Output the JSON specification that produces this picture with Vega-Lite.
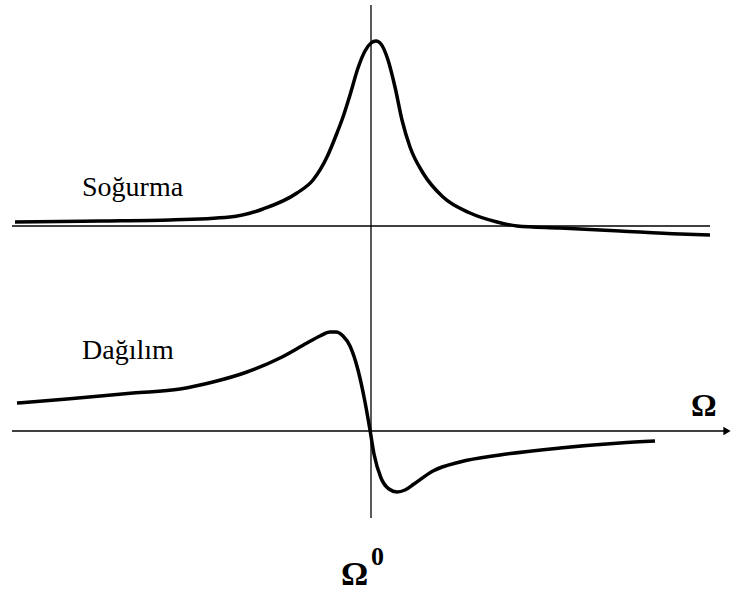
{
  "$schema": "https://vega.github.io/schema/vega-lite/v6.json",
  "width": 734,
  "height": 595,
  "autosize": {"type": "none"},
  "padding": 0,
  "background": "white",
  "config": {"view": {"stroke": null}, "text": {"font": "Liberation Serif"}},
  "datasets": {
    "soğurma": [
      {"x": 15, "y": 222}, {"x": 100, "y": 221}, {"x": 170, "y": 220}, {"x": 230, "y": 217},
      {"x": 263, "y": 209}, {"x": 297, "y": 193}, {"x": 313, "y": 180}, {"x": 327, "y": 157},
      {"x": 337, "y": 133}, {"x": 343, "y": 117}, {"x": 350, "y": 95}, {"x": 358, "y": 68},
      {"x": 365, "y": 51}, {"x": 371, "y": 43}, {"x": 376, "y": 41}, {"x": 381, "y": 44},
      {"x": 388, "y": 60}, {"x": 395, "y": 87}, {"x": 402, "y": 120}, {"x": 410, "y": 147},
      {"x": 423, "y": 173}, {"x": 443, "y": 197}, {"x": 470, "y": 213}, {"x": 497, "y": 222},
      {"x": 517, "y": 226}, {"x": 560, "y": 228}, {"x": 620, "y": 231}, {"x": 680, "y": 234},
      {"x": 710, "y": 235}
    ],
    "dağılım": [
      {"x": 17, "y": 403}, {"x": 67, "y": 399}, {"x": 133, "y": 393}, {"x": 180, "y": 389},
      {"x": 213, "y": 382}, {"x": 247, "y": 372}, {"x": 280, "y": 358}, {"x": 307, "y": 343},
      {"x": 320, "y": 336}, {"x": 330, "y": 332}, {"x": 336, "y": 332}, {"x": 343, "y": 336},
      {"x": 350, "y": 346}, {"x": 358, "y": 370}, {"x": 365, "y": 402}, {"x": 370, "y": 430},
      {"x": 374, "y": 454}, {"x": 381, "y": 478}, {"x": 389, "y": 489}, {"x": 397, "y": 492},
      {"x": 405, "y": 490}, {"x": 414, "y": 484}, {"x": 433, "y": 471}, {"x": 460, "y": 462},
      {"x": 500, "y": 455}, {"x": 560, "y": 448}, {"x": 620, "y": 443}, {"x": 655, "y": 441}
    ],
    "rules": [
      {"x": 12, "x2": 710, "y": 226, "y2": 226},
      {"x": 12, "x2": 728, "y": 431, "y2": 431},
      {"x": 371, "x2": 371, "y": 5, "y2": 518}
    ],
    "labels": [
      {"x": 82, "y": 196, "t": "Soğurma"},
      {"x": 82, "y": 359, "t": "Dağılım"}
    ]
  },
  "encoding": {},
  "layer": [
    {
      "data": {"name": "rules"},
      "mark": {"type": "rule", "color": "black", "strokeWidth": 1.3},
      "encoding": {
        "x": {"field": "x", "type": "quantitative", "scale": {"domain": [0, 734], "nice": false, "zero": false}, "axis": null},
        "x2": {"field": "x2"},
        "y": {"field": "y", "type": "quantitative", "scale": {"domain": [595, 0], "nice": false, "zero": false}, "axis": null},
        "y2": {"field": "y2"}
      }
    },
    {
      "data": {"values": [{"x": 727, "y": 431}]},
      "mark": {"type": "point", "shape": "triangle-right", "filled": true, "color": "black", "size": 70, "opacity": 1},
      "encoding": {
        "x": {"field": "x", "type": "quantitative"},
        "y": {"field": "y", "type": "quantitative"}
      }
    },
    {
      "data": {"name": "soğurma"},
      "mark": {"type": "line", "color": "black", "strokeWidth": 3.5, "interpolate": "monotone"},
      "encoding": {
        "x": {"field": "x", "type": "quantitative"},
        "y": {"field": "y", "type": "quantitative"}
      }
    },
    {
      "data": {"name": "dağılım"},
      "mark": {"type": "line", "color": "black", "strokeWidth": 3.5, "interpolate": "monotone"},
      "encoding": {
        "x": {"field": "x", "type": "quantitative"},
        "y": {"field": "y", "type": "quantitative"}
      }
    },
    {
      "data": {"name": "labels"},
      "mark": {"type": "text", "font": "Liberation Serif", "fontSize": 28, "align": "left", "baseline": "alphabetic", "color": "black"},
      "encoding": {
        "x": {"field": "x", "type": "quantitative"},
        "y": {"field": "y", "type": "quantitative"},
        "text": {"field": "t"}
      }
    },
    {
      "data": {"values": [{"x": 691, "y": 416, "t": "Ω", "s": 32}, {"x": 341, "y": 585, "t": "Ω", "s": 34}, {"x": 371, "y": 565, "t": "0", "s": 26}]},
      "mark": {"type": "text", "font": "Liberation Serif", "fontWeight": "bold", "align": "left", "baseline": "alphabetic", "color": "black"},
      "encoding": {
        "x": {"field": "x", "type": "quantitative"},
        "y": {"field": "y", "type": "quantitative"},
        "text": {"field": "t"},
        "size": {"field": "s", "type": "quantitative", "scale": null, "legend": null}
      }
    }
  ]
}
